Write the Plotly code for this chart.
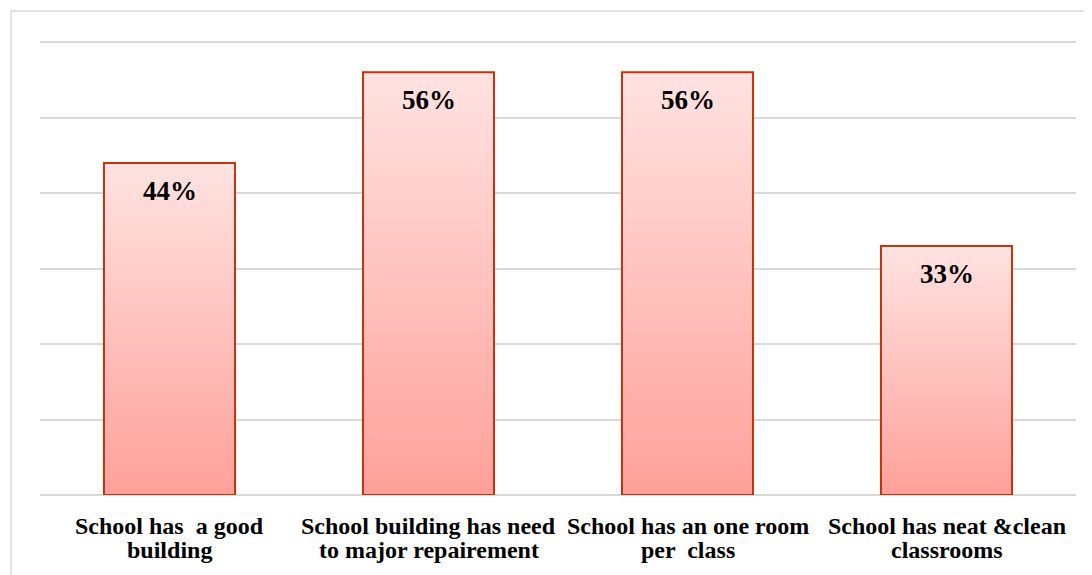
import plotly.graph_objects as go

categories = [
    "School has  a good<br>building",
    "School building has need<br>to major repairement",
    "School has an one room<br>per  class",
    "School has neat &clean<br>classrooms",
]
values = [0.44, 0.56, 0.56, 0.33]
labels = ["44%", "56%", "56%", "33%"]
y_ticks = [0, 0.1, 0.2, 0.3, 0.4, 0.5, 0.6]

FONT = "Liberation Serif"
half_w = 0.253
fig = go.Figure()
for i, v in enumerate(values):
    xs = [i - half_w, i - half_w, i + half_w, i + half_w, i - half_w]
    ys = [0, v, v, 0, 0]
    fig.add_trace(go.Scatter(
        x=xs, y=ys, mode="lines", fill="toself",
        line=dict(color="#C0340F", width=2),
        fillgradient=dict(type="vertical",
                          colorscale=[[0, "#FFA09A"], [1, "#FFE3E1"]]),
        hoverinfo="skip", showlegend=False,
    ))
    fig.add_annotation(x=i, y=v, text=f"<b>{labels[i]}</b>", showarrow=False,
                       yanchor="middle", yshift=-28,
                       font=dict(family=FONT, size=27, color="black"))
    # category label, one annotation per line
    for j, line in enumerate(categories[i].split("<br>")):
        fig.add_annotation(x=i, y=0, text=f"<b>{line}</b>", showarrow=False,
                           yanchor="middle", yshift=-31 - 24 * j,
                           font=dict(family=FONT, size=24, color="black"))

fig.add_shape(type="rect", xref="paper", yref="paper",
              x0=-0.028, x1=1.03, y0=-0.3, y1=1.066,
              line=dict(color="#D9D9D9", width=1.5), fillcolor="rgba(0,0,0,0)", layer="below")

fig.update_layout(
    width=1092, height=575,
    margin=dict(l=32, r=24, t=33, b=88),
    plot_bgcolor="white", paper_bgcolor="white",
    xaxis=dict(range=[-0.5, 3.5], tickvals=list(range(len(categories))),
               showticklabels=False,
               showgrid=False, zeroline=False, showline=False, ticks=""),
    yaxis=dict(range=[0, 0.6015], tickvals=y_ticks, showticklabels=False,
               showgrid=True, gridcolor="#D9D9D9", gridwidth=1.5,
               zeroline=True, zerolinecolor="#D9D9D9", zerolinewidth=1.5),
)

fig.write_html("out.html")
